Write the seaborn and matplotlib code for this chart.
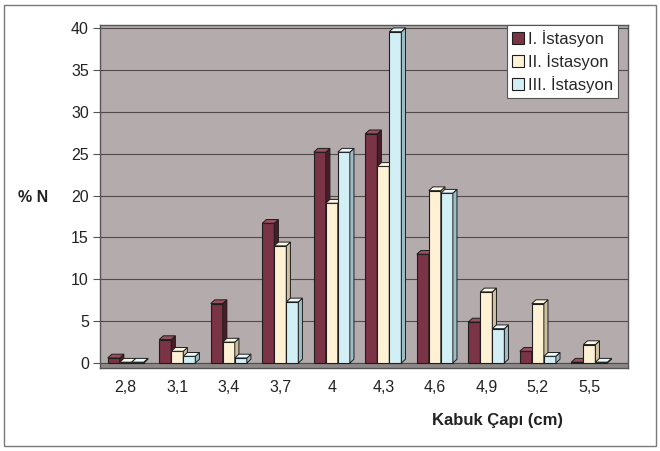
import numpy as np
import pandas as pd
import matplotlib
matplotlib.use("Agg")
import matplotlib.pyplot as plt
from matplotlib.patches import Polygon, Rectangle
import seaborn as sns

# Shell diameter classes and percentage frequency per station
sizes = ["2,8", "3,1", "3,4", "3,7", "4", "4,3", "4,6", "4,9", "5,2", "5,5"]
stations = ["I. İstasyon", "II. İstasyon", "III. İstasyon"]
station1 = [0.6, 2.8, 7.1, 16.7, 25.2, 27.4, 13.0, 4.9, 1.4, 0.1]
station2 = [0.1, 1.4, 2.5, 14.0, 19.1, 23.5, 20.6, 8.5, 7.1, 2.2]
station3 = [0.1, 0.8, 0.6, 7.3, 25.2, 39.6, 20.3, 4.1, 0.8, 0.1]
y_ticks = [0, 5, 10, 15, 20, 25, 30, 35, 40]

face_colors = ["#7b3346", "#fff2d4", "#d2eff6"]
side_colors = ["#4a1b28", "#cdbf9f", "#9dbdc6"]
top_colors = ["#98505f", "#fffae6", "#eaf9fc"]

df = pd.DataFrame({
    "size": sizes * 3,
    "station": np.repeat(stations, len(sizes)),
    "pct": station1 + station2 + station3,
})

sns.set_style("white")
plt.rcParams["font.family"] = ["Liberation Sans", "DejaVu Sans"]

fig = plt.figure(figsize=(6.6, 4.51), dpi=100)
fig.patch.set_facecolor("white")
ax = fig.add_axes([100 / 660, 1 - 368 / 451, 528 / 660, 343 / 451])
ax.set_facecolor("#b4abad")

sns.barplot(data=df, x="size", y="pct", hue="station", order=sizes,
            hue_order=stations, palette=face_colors, width=0.7, gap=0,
            edgecolor="#1e1e1e", linewidth=0.8, saturation=1,
            errorbar=None, ax=ax)

ax.set_xlim(-0.5, 9.75)
ax.set_ylim(-0.6, 40.4)

# floor strip under the columns
ax.axhspan(-0.6, 0, color="#8d8888", zorder=0.5)

# pseudo-3D sides and tops of the columns
dx, dy = 0.08, 0.45
bars = []
for k, cont in enumerate(ax.containers):
    for p in cont.patches:
        bars.append((p.get_x(), k, p))
bars.sort(key=lambda t: t[0])
for i, (x, k, p) in enumerate(bars):
    w, h = p.get_width(), p.get_height()
    z = 3 + 0.01 * i
    p.set_zorder(z)
    side = Polygon([(x + w, 0), (x + w + dx, dy), (x + w + dx, h + dy), (x + w, h)],
                   closed=True, facecolor=side_colors[k], edgecolor="#1e1e1e",
                   linewidth=0.7, zorder=z + 0.005)
    top = Polygon([(x, h), (x + dx, h + dy), (x + w + dx, h + dy), (x + w, h)],
                  closed=True, facecolor=top_colors[k], edgecolor="#1e1e1e",
                  linewidth=0.7, zorder=z + 0.005)
    ax.add_patch(side)
    ax.add_patch(top)

ax.set_yticks(y_ticks)
ax.set_yticklabels([str(v) for v in y_ticks])
ax.yaxis.grid(True, color="#4f4b4b", linewidth=0.8)
ax.xaxis.grid(False)
ax.set_axisbelow(True)

ax.set_xticks(range(len(sizes)))
ax.set_xticklabels(sizes)
ax.set_xticks(np.arange(-0.5, len(sizes), 1), minor=True)
ax.tick_params(axis="x", which="major", length=0, pad=9, labelsize=11.5, colors="#222")
ax.tick_params(axis="x", which="minor", length=5, color="#555", direction="out")
ax.tick_params(axis="y", length=5, color="#555", direction="out", pad=3,
               labelsize=11.5, colors="#222", left=True)

for s in ax.spines.values():
    s.set_color("#555")
    s.set_linewidth(1)

ax.set_xlabel("")
ax.set_ylabel("")
fig.text(497 / 660, 1 - 420 / 451, "Kabuk Çapı (cm)", ha="center", va="center",
         fontsize=12, fontweight="bold", color="#222")
fig.text(33 / 660, 1 - 198 / 451, "% N", ha="center", va="center",
         fontsize=11.5, fontweight="bold", color="#222")

handles, labels = ax.get_legend_handles_labels()
leg = ax.legend(handles, labels, loc="upper right",
                bbox_to_anchor=(618 / 660, 1 - 25 / 451),
                bbox_transform=fig.transFigure, frameon=True, fancybox=False,
                framealpha=1, edgecolor="#555", fontsize=12,
                handlelength=0.7, handleheight=0.7, handletextpad=0.25,
                labelspacing=0.35, borderpad=0.3, borderaxespad=0)
leg.get_frame().set_linewidth(0.8)
leg.set_zorder(10)

fig.patches.append(Rectangle((0.006, 0.012), 0.988, 0.976, transform=fig.transFigure,
                             fill=False, edgecolor="#7a7a7a", linewidth=1))

fig.savefig("out.png", dpi=100)
